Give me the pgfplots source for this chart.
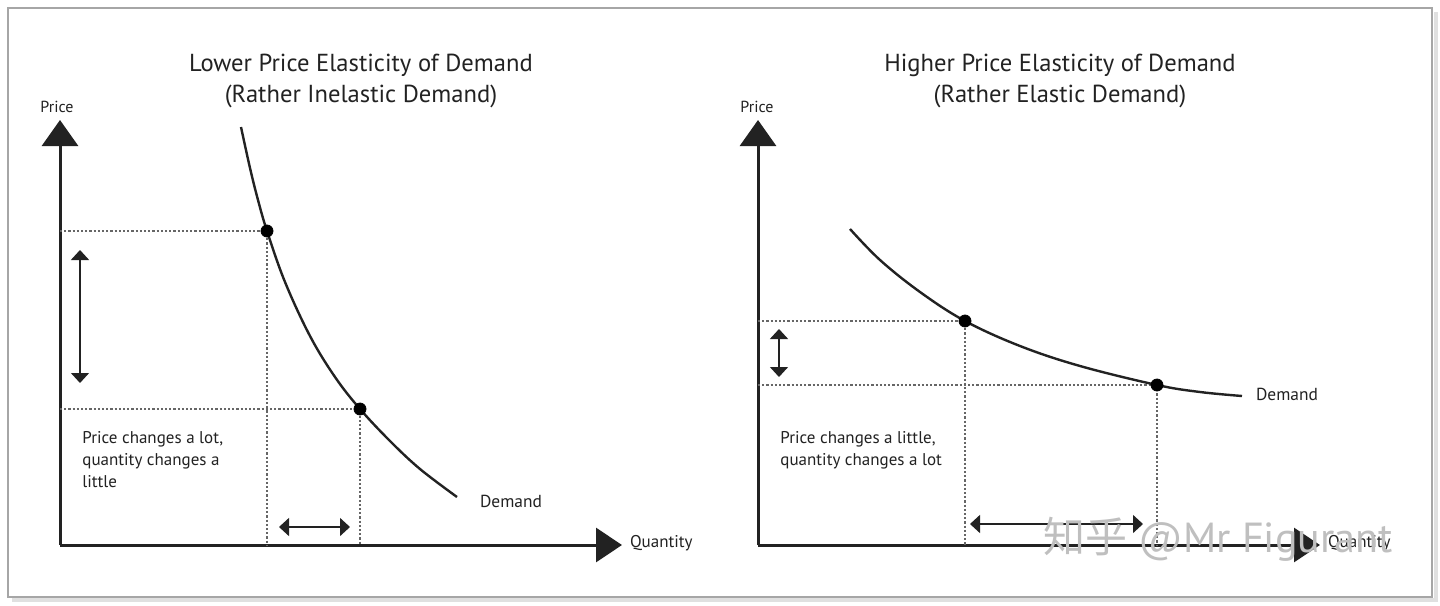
\documentclass[border=0pt]{standalone}
\usepackage{fontspec}
\setmainfont{PT Sans}
\newfontfamily\cjk{Noto Sans CJK SC}
\usepackage{pgfplots}
\pgfplotsset{compat=1.18}
\usetikzlibrary{arrows.meta}

\definecolor{ink}{HTML}{222222}

\pgfplotsset{
  demand panel/.style={
    scale only axis, width=281pt, height=212.5pt,
    xmin=0, xmax=562, ymin=0, ymax=425,
    axis lines=left, xtick=\empty, ytick=\empty,
    enlargelimits=false, clip=false, anchor=south west,
    axis line style={line width=1.5pt, ink},
    x axis line style={-{Triangle[width=17pt,length=13pt]}},
    y axis line style={-{Triangle[width=18pt,length=13pt]}},
  },
  guide/.style={black!60, line width=1.1pt, densely dotted},
  curve/.style={ink, line width=1.2pt, smooth, tension=0.6},
  span/.style={ink, line width=0.7pt,
    {Triangle[width=9pt,length=5pt]}-{Triangle[width=9pt,length=5pt]}},
  dot/.style={only marks, mark=*, mark size=3pt, black},
}

\begin{document}
\begin{tikzpicture}
\path[use as bounding box] (0,0) rectangle (720pt,-302.5pt);
\fill[white] (0,0) rectangle (720pt,-302.5pt);
% card frame with a soft shadow
\draw[black!12, line width=2pt] (718pt,-6pt) -- (718pt,-300pt) -- (6pt,-300pt);
\draw[black!35, line width=0.7pt] (4pt,-4pt) rectangle (716pt,-298.5pt);

% ---------- inelastic demand ----------
\begin{axis}[demand panel, at={(30pt,-272.5pt)}]
  \addplot[guide] coordinates {(0,314) (207,314) (207,0)};
  \addplot[guide] coordinates {(0,136) (300,136) (300,0)};
  \addplot[curve] coordinates {
    (181,418) (190,377) (198,345) (207,314) (225,263) (250,209)
    (275,168) (300,136) (330,104) (360,76) (397,48)};
  \addplot[dot] coordinates {(207,314) (300,136)};
  \addplot[span] coordinates {(20,295) (20,162)};
  \addplot[span] coordinates {(219,18) (290,18)};
  \node[font=\fontsize{12.3}{15.5}\selectfont, text=ink, align=center]
    at (axis cs:301,464) {Lower Price Elasticity of Demand\\(Rather Inelastic Demand)};
  \node[font=\fontsize{8}{10}\selectfont, text=ink] at (axis cs:-3,438) {Price};
  \node[font=\fontsize{8.5}{10}\selectfont, text=ink, anchor=west] at (axis cs:563,2) {Quantity};
  \node[font=\fontsize{8.7}{10}\selectfont, text=ink, anchor=west] at (axis cs:413,44) {Demand};
  \node[font=\fontsize{8.5}{11}\selectfont, text=ink, anchor=north west, align=left, inner sep=0pt]
    at (axis cs:22,114) {Price changes a lot,\\quantity changes a\\little};
\end{axis}

% ---------- elastic demand ----------
\begin{axis}[demand panel, at={(379pt,-272.5pt)}]
  \addplot[guide] coordinates {(0,224) (207,224) (207,0)};
  \addplot[guide] coordinates {(0,160) (399,160) (399,0)};
  \addplot[curve] coordinates {
    (92,316) (122,285) (162,253) (207,224) (262,199) (322,179)
    (399,160) (442,153) (484,149)};
  \addplot[dot] coordinates {(207,224) (399,160)};
  \addplot[span] coordinates {(21,216) (21,168)};
  \addplot[span] coordinates {(212,21) (385,21)};
  \node[font=\fontsize{12.3}{15.5}\selectfont, text=ink, align=center]
    at (axis cs:302,464) {Higher Price Elasticity of Demand\\(Rather Elastic Demand)};
  \node[font=\fontsize{8}{10}\selectfont, text=ink] at (axis cs:-1,438) {Price};
  \node[font=\fontsize{8.5}{10}\selectfont, text=ink, anchor=west] at (axis cs:563,2) {Quantity};
  \node[font=\fontsize{8.7}{10}\selectfont, text=ink, anchor=west] at (axis cs:491,151) {Demand};
  \node[font=\fontsize{8.5}{11}\selectfont, text=ink, anchor=north west, align=left, inner sep=0pt]
    at (axis cs:22,114) {Price changes a little,\\quantity changes a lot};
  \node[font=\fontsize{21}{23}\selectfont, text=black!25] at (axis cs:460,6)
    {{\cjk 知乎} @Mr Figurant};
\end{axis}
\end{tikzpicture}
\end{document}
